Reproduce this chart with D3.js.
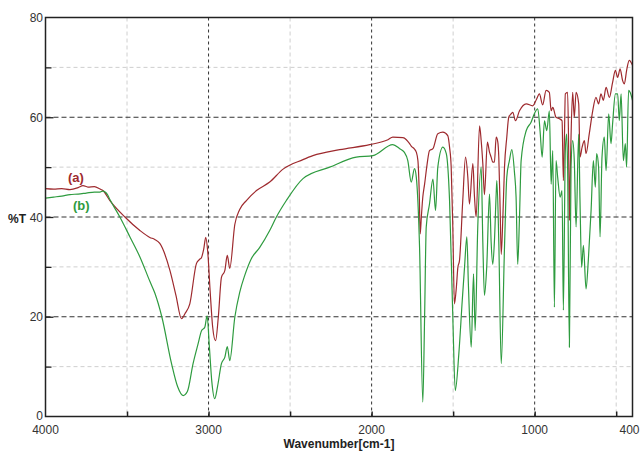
<!DOCTYPE html>
<html><head><meta charset="utf-8">
<script src="https://cdn.jsdelivr.net/npm/d3@7"></script>
<style>body{margin:0;background:#fff}svg{display:block}</style>
</head><body>
<svg id="c" width="640" height="451"></svg>
<script>
// Sample (a) – red spectrum: [wavenumber cm-1, %T]
const seriesA = [[4000,45.7],[3950,45.6],[3900,45.7],[3850,45.5],[3800,45.9],[3770,46.3],[3740,46.0],[3700,46.1],[3665,45.6],[3648,45.3],[3605,43.3],[3513,40.0],[3421,37.3],[3360,35.9],[3330,35.5],[3299,34.7],[3237,29.3],[3200,24.3],[3166,19.6],[3145,20.6],[3115,22.6],[3074,30.7],[3055,31.5],[3043,31.9],[3030,33.5],[3017,35.9],[3005,33],[2990,25],[2975,18],[2957,15.2],[2940,20],[2921,27.9],[2900,29.3],[2885,32.3],[2870,29.7],[2839,38.5],[2809,41.5],[2768,43.3],[2706,45.3],[2625,47],[2543,49.6],[2421,51.5],[2360,52.3],[2196,53.5],[2012,54.5],[1900,55.5],[1870,56],[1808,55.9],[1787,55.5],[1767,54.7],[1757,54.2],[1737,53.6],[1726,53],[1716,51.3],[1708,45],[1702,36.6],[1695,40],[1686,44],[1675,46.6],[1660,50.5],[1645,53.3],[1624,53.7],[1594,56.7],[1563,57],[1533,56.3],[1522,54],[1512,50],[1502,38],[1492,22.6],[1480,26],[1471,29.9],[1461,31.3],[1441,43.3],[1424,52],[1410,48],[1400,42.6],[1379,50.7],[1369,44],[1359,40],[1338,58.3],[1328,55.3],[1318,50.7],[1308,44.5],[1290,55],[1277,53],[1267,52],[1257,51],[1247,51],[1236,56],[1226,55],[1220,52],[1212,42],[1205,32.5],[1195,40],[1185,50],[1171,56],[1159,60],[1144,60.7],[1134,61],[1118,59.3],[1093,61.3],[1052,62.7],[1012,62.3],[990,63.5],[971,64.7],[951,62.5],[930,65.4],[910,65],[899,61.3],[889,62],[869,60],[848,59.7],[832,59.3],[824,47.3],[818,55],[812,64.7],[798,65],[792,55],[787,39.3],[782,48],[777,56],[767,65],[757,60],[746,65],[730,62.7],[722,52],[709,54],[695,55.3],[685,52.7],[665,56.7],[644,61.3],[624,64],[608,62.7],[593,64.7],[579,63.4],[562,66],[542,64],[522,67],[505,69.4],[491,68],[476,69.7],[461,67.4],[450,66.7],[436,69.4],[420,71.4],[400,70.4]];

// Sample (b) – green spectrum
const seriesB = [[4000,43.8],[3950,44.0],[3900,44.2],[3850,44.5],[3800,44.6],[3750,44.8],[3700,45.0],[3666,45.0],[3648,45.2],[3620,44.5],[3605,43.5],[3544,40],[3482,36],[3421,32],[3360,27.1],[3329,24.7],[3286,19.9],[3227,10.6],[3190,6],[3156,4.2],[3130,5],[3095,10.6],[3064,14.6],[3043,17.2],[3023,17.9],[3009,20.2],[2995,14],[2980,7],[2962,3.6],[2945,6],[2921,10.6],[2900,11.9],[2885,14],[2870,11.2],[2839,19.9],[2809,24.9],[2778,28.3],[2740,31.5],[2686,33.9],[2625,37.3],[2584,40],[2523,43.3],[2421,47.7],[2257,50],[2094,52],[1992,52.3],[1870,54.5],[1828,53.7],[1800,53],[1778,51.3],[1757,47],[1737,49.7],[1726,48],[1706,34],[1686,2.9],[1675,20],[1665,38],[1645,42.6],[1624,47.6],[1608,41.3],[1594,50],[1563,54],[1542,52.7],[1522,43.3],[1502,19.9],[1487,5.2],[1465,12.6],[1444,23.3],[1430,30],[1416,36],[1406,26],[1389,13.9],[1375,28.6],[1365,17.2],[1349,38],[1328,50],[1318,35],[1308,24.3],[1294,30],[1277,44.6],[1267,35],[1257,30.5],[1247,35],[1236,44.6],[1232,47.3],[1220,35],[1205,10.6],[1185,34],[1171,48],[1155,51.3],[1140,53.5],[1124,49],[1114,44],[1104,30.5],[1093,40],[1083,51.3],[1052,57.3],[1022,59],[1002,60.7],[981,61.7],[967,57.3],[954,52],[940,59.3],[926,57.3],[910,61.3],[899,46.6],[889,53.3],[879,21.9],[869,51.3],[859,48],[844,44],[832,45.3],[824,21.3],[812,53.3],[804,56.6],[798,50],[787,13.9],[777,50],[767,55.3],[757,51.3],[746,38],[730,56.6],[722,43.3],[712,29.9],[701,34.3],[685,25.6],[671,31.3],[654,41.3],[640,51.3],[628,46],[620,52.7],[608,50],[599,36],[587,52],[573,56],[562,49.3],[546,60.7],[532,54.7],[522,58.7],[505,64.7],[491,64.7],[481,59.3],[470,64.7],[456,51.3],[444,54.7],[436,50],[424,65.4],[415,65],[400,63.4]];

const seriesNames = ["(a)", "(b)"];
const xTickLabels = [4000, 3000, 2000, 1000, 400];
const xMajorGrid = [3000, 2000, 1000];
const xMinorGrid = [3500, 2500, 1500, 500];
const yTickLabels = [0, 20, 40, 60, 80];
const yMajorGrid = [20, 40, 60];
const yMinorGrid = [10, 30, 50, 70];
const xTitle = "Wavenumber[cm-1]";
const yTitle = "%T";

const colA = "#9e2a2e", colB = "#2e9b3f";
const L = 45.5, R = 632.5, T = 17.5, B = 416.5;
const svg = d3.select("#c");
const x = d3.scaleLinear().domain([4000, 400]).range([L, R]);
const y = d3.scaleLinear().domain([0, 80]).range([B, T]);

const g = svg.append("g");
// minor grid
g.selectAll(".vmin").data(xMinorGrid).join("line")
  .attr("x1", d => x(d)).attr("x2", d => x(d)).attr("y1", T).attr("y2", B)
  .attr("stroke", "#cfcfcf").attr("stroke-dasharray", "4,3");
g.selectAll(".hmin").data(yMinorGrid).join("line")
  .attr("x1", L).attr("x2", R).attr("y1", d => y(d)).attr("y2", d => y(d))
  .attr("stroke", "#cfcfcf").attr("stroke-dasharray", "4,3");
// major grid
g.selectAll(".vmaj").data(xMajorGrid).join("line")
  .attr("x1", d => x(d)).attr("x2", d => x(d)).attr("y1", T).attr("y2", B)
  .attr("stroke", "#333").attr("stroke-dasharray", "3,3");
g.selectAll(".hmaj").data(yMajorGrid).join("line")
  .attr("x1", L).attr("x2", R).attr("y1", d => y(d)).attr("y2", d => y(d))
  .attr("stroke", "#333").attr("stroke-dasharray", "5,3");

// spectra
const line = d3.line().x(d => x(d[0])).y(d => y(d[1])).curve(d3.curveMonotoneX);
svg.append("clipPath").attr("id","pc").append("rect")
  .attr("x", L).attr("y", T).attr("width", R - L).attr("height", B - T);
svg.append("path").datum(seriesA).attr("d", line).attr("fill", "none")
  .attr("stroke", colA).attr("stroke-width", 1.2).attr("clip-path","url(#pc)");
svg.append("path").datum(seriesB).attr("d", line).attr("fill", "none")
  .attr("stroke", colB).attr("stroke-width", 1.2).attr("clip-path","url(#pc)");

// frame
svg.append("rect").attr("x", L).attr("y", T).attr("width", R - L).attr("height", B - T)
  .attr("fill", "none").attr("stroke", "#222").attr("stroke-width", 1.5);

// axes
const xAxis = d3.axisBottom(x).tickValues([3500,3000,2500,2000,1500,1000,500]).tickSize(-5).tickFormat("");
svg.append("g").attr("transform", `translate(0,${B})`).call(xAxis)
  .call(a => a.select(".domain").remove())
  .call(a => a.selectAll("line").attr("stroke", "#222").attr("stroke-width", 1.5));
const yAxisMaj = d3.axisLeft(y).tickValues(yMajorGrid).tickSize(-8).tickFormat("");
svg.append("g").attr("transform", `translate(${L},0)`).call(yAxisMaj)
  .call(a => a.select(".domain").remove())
  .call(a => a.selectAll("line").attr("stroke", "#222").attr("stroke-width", 1.3));
const yAxisMin = d3.axisLeft(y).tickValues(yMinorGrid).tickSize(-6).tickFormat("");
svg.append("g").attr("transform", `translate(${L},0)`).call(yAxisMin)
  .call(a => a.select(".domain").remove())
  .call(a => a.selectAll("line").attr("stroke", "#222").attr("stroke-width", 1.3));

const font = "Arial, 'Liberation Sans', sans-serif";
// tick labels
svg.selectAll(".xl").data(xTickLabels).join("text")
  .attr("x", d => d === 400 ? x(d) - 3 : x(d)).attr("y", 434).attr("text-anchor", "middle")
  .attr("font-family", font).attr("font-size", 12).attr("fill", "#333").text(d => d);
svg.selectAll(".yl").data(yTickLabels).join("text")
  .attr("x", 43).attr("y", d => d === 0 ? y(d) + 3 : y(d) + 4.5).attr("text-anchor", "end")
  .attr("font-family", font).attr("font-size", 12).attr("fill", "#333").text(d => d);

// titles
svg.append("text").attr("x", 339).attr("y", 448).attr("text-anchor", "middle")
  .attr("font-family", font).attr("font-size", 12).attr("font-weight", "bold").attr("fill", "#222").text(xTitle);
svg.append("text").attr("x", 8).attr("y", 223)
  .attr("font-family", font).attr("font-size", 12).attr("font-weight", "bold").attr("fill", "#222").text(yTitle);

// series labels
svg.append("text").attr("x", 68).attr("y", 182).attr("font-family", font).attr("font-size", 13)
  .attr("font-weight", "bold").attr("fill", colA).text(seriesNames[0]);
svg.append("text").attr("x", 73).attr("y", 210).attr("font-family", font).attr("font-size", 13)
  .attr("font-weight", "bold").attr("fill", colB).text(seriesNames[1]);
</script>
</body></html>
